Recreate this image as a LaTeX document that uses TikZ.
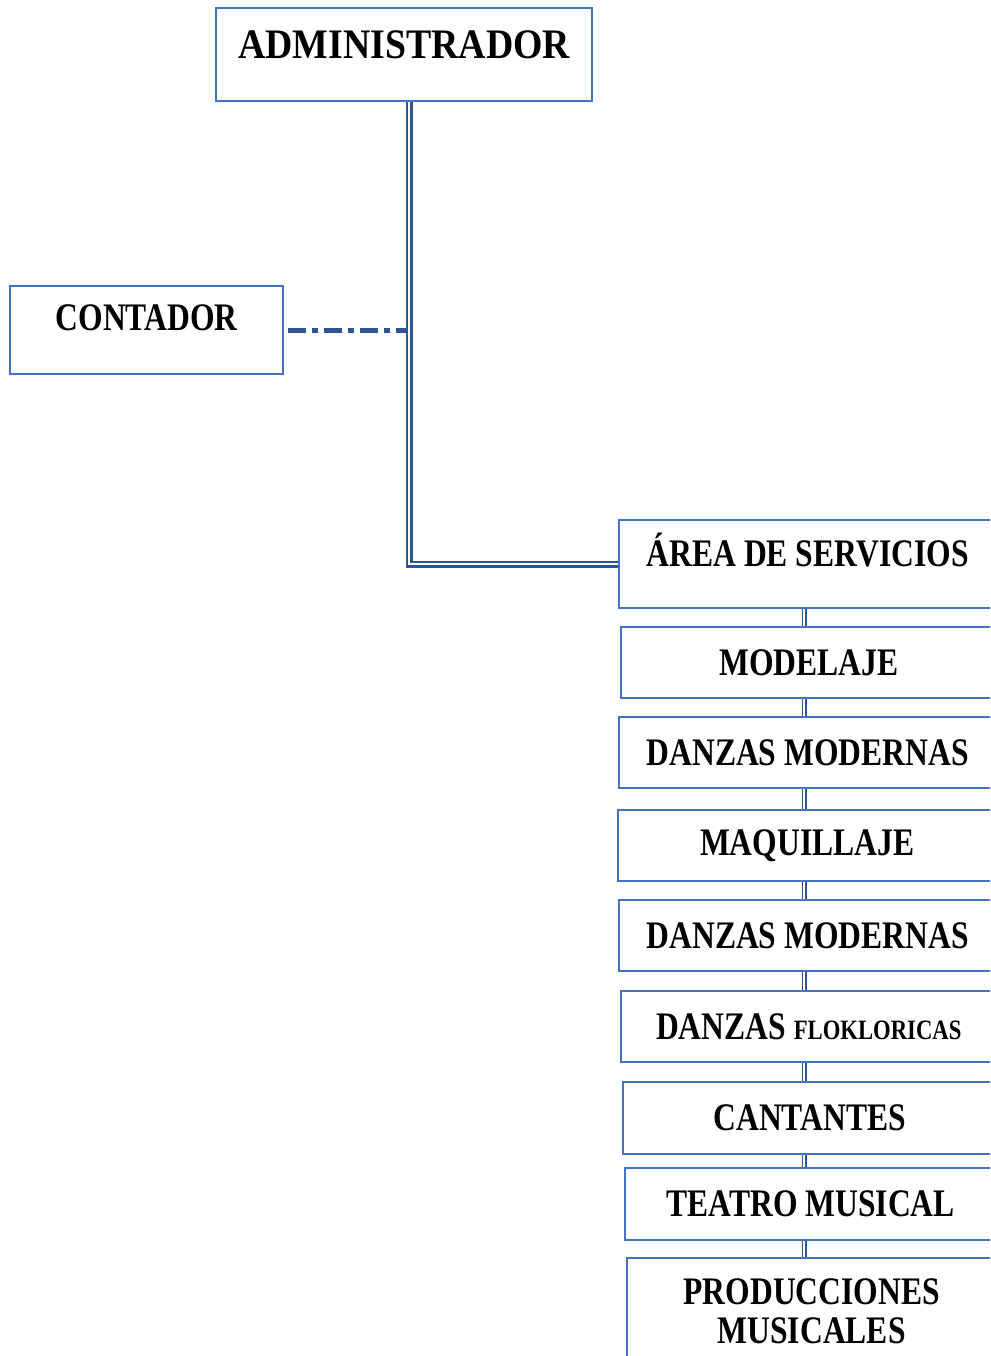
\documentclass[tikz,border=0pt]{standalone}
\usepackage{fontspec}
\setmainfont{Liberation Serif}
\newfontfamily\boxfont[FakeStretch=0.81]{Liberation Serif}
\newfontfamily\headfont[FakeStretch=0.9]{Liberation Serif}
\usepackage{tikz}

\definecolor{boxBlue}{HTML}{4472C4}
\definecolor{linkBlue}{HTML}{2F5597}

\tikzset{
  orgBox/.style = {draw = boxBlue, line width = 2.4pt, inner sep = 0pt, anchor = north west,
    align = center, font = \boxfont\bfseries\fontsize{39}{39}\selectfont},
  mainLink/.style = {draw = linkBlue, double = white, line width = 2.1pt, double distance = 2.4pt},
  chainLink/.style = {draw = linkBlue, double = white, line width = 1.7pt, double distance = 1.6pt},
  dashLink/.style = {draw = linkBlue, line width = 4.6pt, dash pattern = on 18pt off 6pt on 6pt off 6pt}
}

\begin{document}
\begin{tikzpicture}[x = 1pt, y = -1pt]
    \useasboundingbox (0,0) rectangle (990,1356);
    \clip (0,0) rectangle (990,1356);

    \node[orgBox, minimum width = 376pt, minimum height = 93pt, text height = 27.5pt, text depth = 20pt,
      font = \headfont\bfseries\fontsize{42}{42}\selectfont](administrador) at (215,7) {ADMINISTRADOR};
    \node[orgBox, minimum width = 273pt, minimum height = 88pt, text height = 25.5pt, text depth = 24pt](contador) at (9,285) {CONTADOR};

    \node[orgBox, minimum width = 377pt, minimum height = 88pt, text height = 25.5pt, text depth = 20pt](areaServicios) at (618,519) {ÁREA DE SERVICIOS};
    \node[orgBox, minimum width = 375pt, minimum height = 71pt](modelaje) at (620,626) {MODELAJE};
    \node[orgBox, minimum width = 377pt, minimum height = 71pt](danzasModernas) at (618,716) {DANZAS MODERNAS};
    \node[orgBox, minimum width = 378pt, minimum height = 71pt](maquillaje) at (617,809) {MAQUILLAJE};
    \node[orgBox, minimum width = 377pt, minimum height = 71pt](danzasModernasDos) at (618,899) {DANZAS MODERNAS};
    \node[orgBox, minimum width = 375pt, minimum height = 71pt](danzasFolkloricas) at (620,990) {DANZAS {\fontsize{28}{28}\selectfont FLOKLORICAS}};
    \node[orgBox, minimum width = 373pt, minimum height = 72pt](cantantes) at (622,1081) {CANTANTES};
    \node[orgBox, minimum width = 371pt, minimum height = 72pt](teatroMusical) at (624,1167) {TEATRO MUSICAL};
    \node[orgBox, minimum width = 369pt, minimum height = 106pt](producciones) at (626,1257) {PRODUCCIONES\\MUSICALES};

    \coordinate (trunkEdge) at ([xshift = 2pt]administrador.south);
    \coordinate (chainAxis) at (804,0);

    \draw[dashLink] ([xshift = 4pt]contador.east) -- (contador.east -| trunkEdge);
    \draw[mainLink] ([xshift = 5pt]administrador.south) |- (areaServicios.west);

    \foreach \upper/\lower in {areaServicios/modelaje, modelaje/danzasModernas, danzasModernas/maquillaje,
        maquillaje/danzasModernasDos, danzasModernasDos/danzasFolkloricas, danzasFolkloricas/cantantes,
        cantantes/teatroMusical, teatroMusical/producciones}
      \draw[chainLink] (\upper.south -| chainAxis) -- (\lower.north -| chainAxis);
\end{tikzpicture}
\end{document}
